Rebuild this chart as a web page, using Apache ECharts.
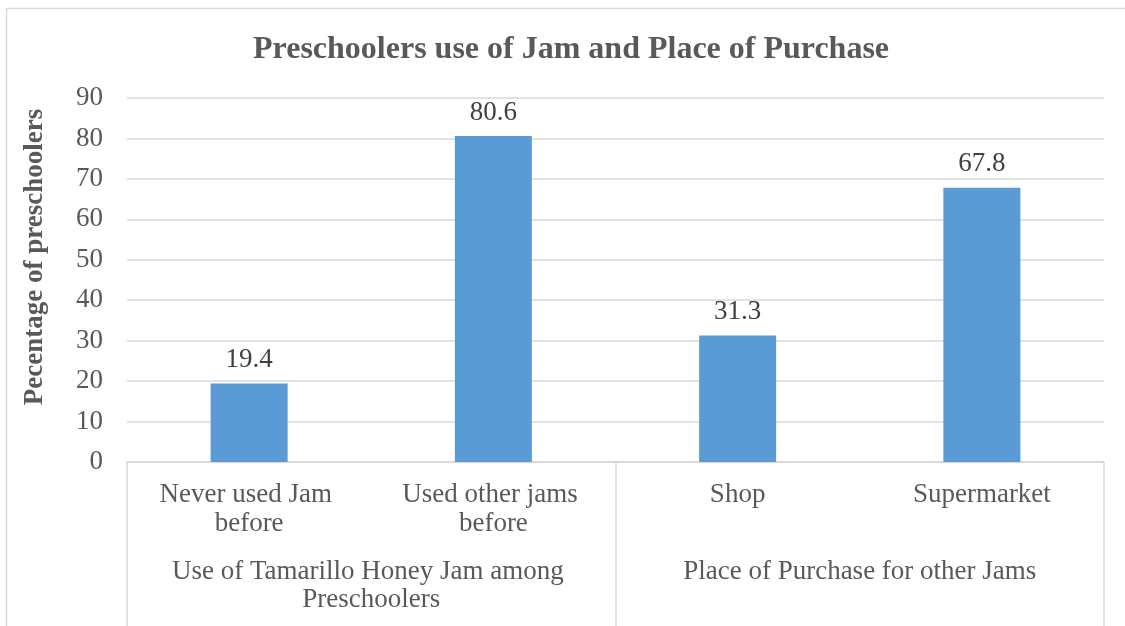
<!DOCTYPE html>
<html>
<head>
<meta charset="utf-8">
<script src="https://cdn.jsdelivr.net/npm/echarts@6/dist/echarts.min.js"></script>
<style>html,body{margin:0;padding:0;background:#fff;}#c{width:1125px;height:626px;}</style>
</head>
<body>
<div id="c"></div>
<script>
const categories = ['Never used Jam before', 'Used other jams before', 'Shop', 'Supermarket'];
const groups = ['Use of Tamarillo Honey Jam among Preschoolers', 'Place of Purchase for other Jams'];
const values = [19.4, 80.6, 31.3, 67.8];
const titleText = 'Preschoolers use of Jam and Place of Purchase';
const yTitle = 'Pecentage of preschoolers';

const FONT = '"Liberation Serif", "Times New Roman", serif';
const chart = echarts.init(document.getElementById('c'));
chart.setOption({
  animation: false,
  backgroundColor: '#fff',
  title: {
    text: titleText, left: 248, top: 29, padding: 5,
    textStyle: { fontFamily: FONT, fontSize: 32, fontWeight: 'bold', color: '#595959' }
  },
  graphic: [{
    type: 'rect', silent: true,
    shape: { x: 6.5, y: 8.5, width: 1130, height: 640 },
    style: { fill: 'none', stroke: '#d9d9d9', lineWidth: 1.5 }
  }],
  grid: { left: 127, right: 21, top: 98, bottom: 164 },
  xAxis: [{
    type: 'category', data: categories,
    axisLine: { show: true, lineStyle: { color: '#d9d9d9', width: 1.5 } },
    axisTick: { show: false },
    axisLabel: {
      interval: 0, margin: 18, width: 205, overflow: 'break', lineHeight: 29,
      fontFamily: FONT, fontSize: 27, color: '#595959'
    }
  }, {
    type: 'category', data: groups, position: 'bottom',
    axisLine: { show: true, lineStyle: { color: '#d9d9d9', width: 1.5 } },
    axisTick: { show: true, length: 170, interval: 0, lineStyle: { color: '#d9d9d9', width: 1.5 } },
    axisLabel: {
      interval: 0, margin: 96, width: 420, overflow: 'break', lineHeight: 28,
      fontFamily: FONT, fontSize: 27, color: '#595959'
    }
  }],
  yAxis: {
    type: 'value', min: 0, max: 90, interval: 10,
    name: yTitle, nameLocation: 'middle', nameGap: 78,
    nameTextStyle: { fontFamily: FONT, fontSize: 27, fontWeight: 'bold', color: '#595959', padding: [0, 0, 0, 46] },
    axisLine: { show: false }, axisTick: { show: false },
    axisLabel: { margin: 24, fontFamily: FONT, fontSize: 27, color: '#595959' },
    splitLine: { lineStyle: { color: '#d9d9d9', width: 1.5 } }
  },
  series: [{
    type: 'bar', data: values, xAxisIndex: 0, barWidth: 77,
    itemStyle: { color: '#5b9bd5' },
    label: {
      show: true, position: 'top', distance: 10,
      fontFamily: FONT, fontSize: 27, color: '#404040'
    }
  }]
});
</script>
</body>
</html>
